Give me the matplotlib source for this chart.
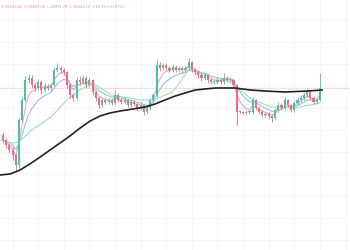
import matplotlib
matplotlib.use("Agg")
import matplotlib.pyplot as plt
import pandas as pd

# OHLC data, one entry per candle
opens = [27650, 27600, 27550, 27500, 27450, 27350, 27800, 28000, 28200, 28220,
         28150, 28120, 28180, 28100, 28140, 28120, 28150, 28300, 28320, 28300,
         28280, 28150, 28050, 28020, 28200, 28180, 28220, 28150, 28200, 28080,
         28020, 27950, 28000, 27980, 28000, 27970, 28050, 28000, 27980, 28000,
         27950, 27980, 27960, 27920, 27950, 27880, 27920, 28000, 28050, 28350,
         28320, 28350, 28320, 28300, 28330, 28300, 28320, 28300, 28320, 28380,
         28300, 28280, 28250, 28220, 28250, 28200, 28180, 28180, 28200, 28180,
         28220, 28200, 28200, 28150, 27880, 27880, 27870, 27880, 27880, 28000,
         27920, 27880, 27850, 27860, 27840, 27820, 27900, 27950, 27920, 28000,
         27950, 27900, 27970, 28000, 28020, 28050, 28080, 28020, 27980, 28000]
closes = [27600, 27550, 27500, 27450, 27350, 27800, 28000, 28200, 28220, 28150,
          28120, 28180, 28100, 28140, 28120, 28150, 28300, 28320, 28300, 28280,
          28150, 28050, 28020, 28200, 28180, 28220, 28150, 28200, 28080, 28020,
          27950, 28000, 27980, 28000, 27970, 28050, 28000, 27980, 28000, 27950,
          27980, 27960, 27920, 27950, 27880, 27920, 28000, 28050, 28350, 28320,
          28350, 28320, 28300, 28330, 28300, 28320, 28300, 28320, 28380, 28300,
          28280, 28250, 28220, 28250, 28200, 28180, 28180, 28200, 28180, 28220,
          28200, 28200, 28150, 27880, 27880, 27870, 27880, 27880, 28000, 27920,
          27880, 27850, 27860, 27840, 27820, 27900, 27950, 27920, 28000, 27950,
          27900, 27970, 28000, 28020, 28050, 28080, 28020, 27980, 28000, 28120]
highs = [27680, 27620, 27570, 27530, 27470, 27820, 28030, 28240, 28260, 28250,
         28180, 28210, 28200, 28170, 28160, 28170, 28330, 28370, 28340, 28320,
         28290, 28170, 28070, 28230, 28240, 28250, 28240, 28230, 28210, 28100,
         28040, 28020, 28020, 28020, 28020, 28100, 28070, 28020, 28030, 28010,
         28000, 28000, 27980, 27980, 27960, 27950, 28020, 28070, 28400, 28380,
         28370, 28370, 28340, 28360, 28350, 28340, 28340, 28340, 28420, 28390,
         28320, 28300, 28270, 28270, 28260, 28220, 28200, 28220, 28220, 28270,
         28240, 28230, 28220, 28160, 27900, 27890, 27900, 27900, 28030, 28010,
         27940, 27900, 27880, 27880, 27860, 27920, 27980, 27970, 28030, 28010,
         27960, 27990, 28030, 28050, 28080, 28120, 28090, 28040, 28020, 28270]
lows = [27570, 27520, 27470, 27400, 27280, 27320, 27780, 27980, 28170, 28120,
        28090, 28100, 28060, 28080, 28100, 28100, 28140, 28280, 28270, 28250,
        28120, 28020, 27990, 28000, 28150, 28160, 28120, 28130, 28050, 27990,
        27920, 27930, 27960, 27960, 27950, 27950, 27980, 27960, 27960, 27930,
        27930, 27940, 27890, 27900, 27850, 27860, 27900, 27980, 28030, 28290,
        28300, 28300, 28280, 28280, 28280, 28280, 28270, 28280, 28300, 28280,
        28250, 28220, 28190, 28200, 28170, 28160, 28160, 28160, 28160, 28160,
        28180, 28180, 28130, 27750, 27860, 27850, 27850, 27860, 27860, 27900,
        27860, 27830, 27830, 27810, 27780, 27800, 27880, 27900, 27900, 27930,
        27880, 27880, 27950, 27980, 28000, 28030, 28000, 27960, 27960, 27990]

# long moving average (candle index, price)
ma_long_x = [-0.9, 2.2, 5.3, 8.4, 11.6, 14.7, 17.8, 20.9, 24.1, 27.2, 30.3, 33.4,
             36.6, 40.6, 44.4, 47.5, 50.6, 53.8, 56.9, 60.0, 63.1, 66.3, 72.5,
             77.2, 81.9, 88.1, 95.3, 99.7]
ma_long_y = [27250, 27260, 27300, 27360, 27430, 27500, 27570, 27640, 27720, 27790,
             27840, 27870, 27890, 27910, 27930, 27960, 28000, 28040, 28070, 28100,
             28110, 28120, 28120, 28100, 28090, 28080, 28090, 28100]
# medium moving average (light green)
ma_mid_x = [-1, 3, 5, 9, 15, 20, 24, 28, 34, 43, 47, 53, 58, 71, 78, 84, 91, 99]
ma_mid_y = [27600, 27570, 27580, 27700, 27830, 28000, 28100, 28170, 28050, 28000,
            28000, 28080, 28300, 28180, 28000, 27930, 27920, 27970]

header = "O 28441.82  H 28467.06  L 28371.78  C 28442.10  +15.75 (+0.07%)"

UP = "#4cc3a0"
DOWN = "#f26b7a"

fig = plt.figure(figsize=(3.5, 2.5), dpi=100)
ax = fig.add_axes([0, 0, 1, 1])
ax.set_xlim(-0.94, 108.4)
ax.set_ylim(26500, 29000)
ax.axis("off")

# faint grid
for gx in range(3, 108, 8):
    ax.axvline(gx, color="#f6f6f8", lw=0.6, zorder=0)
for gy in range(26600, 29000, 220):
    ax.axhline(gy, color="#f6f6f8", lw=0.6, zorder=0)

# short moving averages computed from the closes
s = pd.Series(closes)
ema_fast = s.ewm(span=4, adjust=False).mean()
ema_slow = s.ewm(span=9, adjust=False).mean()
idx = list(range(len(closes)))
ax.plot(idx, ema_slow, color="#9bbcf5", lw=0.8, zorder=2)
ax.plot(idx, ema_fast, color="#f5a3c8", lw=0.8, zorder=2)
ax.plot(ma_mid_x, ma_mid_y, color="#9be6b4", lw=0.8, zorder=2)

# candles
for i, (o, h, l, c) in enumerate(zip(opens, highs, lows, closes)):
    col = UP if c >= o else DOWN
    ax.vlines(i, l, h, color=col, lw=0.6, zorder=3)
    ax.bar(i, max(abs(c - o), 6), bottom=min(o, c), width=0.65, color=col,
           edgecolor="none", zorder=4)

ax.plot(ma_long_x, ma_long_y, color="#222222", lw=1.2, zorder=5,
        solid_joinstyle="round")

# last price line
ax.axhline(closes[-1], color="#f2a0a8", lw=0.6, ls=(0, (1, 1.5)), zorder=1)

fig.text(0.003, 0.982, header, fontsize=2.6, color="#f08c94", va="top", ha="left")

fig.savefig("out.png", dpi=100, facecolor="white")
